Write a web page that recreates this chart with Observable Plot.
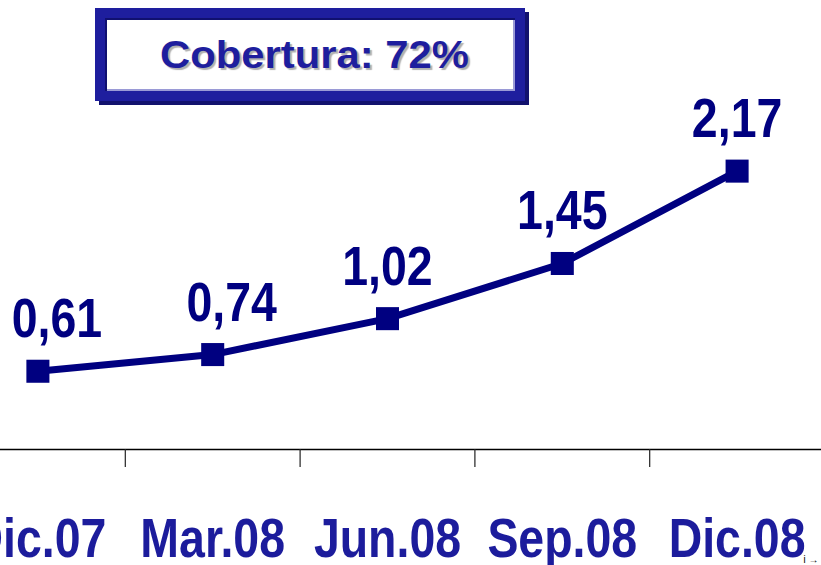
<!DOCTYPE html>
<html>
<head>
<meta charset="utf-8">
<script src="https://cdn.jsdelivr.net/npm/d3@7"></script>
<script src="https://cdn.jsdelivr.net/npm/@observablehq/plot@0.6"></script>
<style>
  html, body { margin: 0; padding: 0; background: #fff; }
  #wrap { position: relative; width: 821px; height: 565px; overflow: hidden; }
  #box {
    position: absolute; left: 95px; top: 8px; width: 410px; height: 73px;
    border: 10px solid #1e1e9e;
    box-shadow: 4px 4px 0 #12126e, inset 2px 2px 0 #101070, inset -2px -2px 0 #9a9ad6;
    background: #fff;
    display: flex; align-items: center; justify-content: center;
    z-index: 2;
  }
  #box span {
    font-family: "Liberation Sans", Arial, sans-serif; font-weight: bold;
    font-size: 38px; color: #1e1e9e; display: inline-block;
    transform: scaleX(1.1); text-shadow: 2px 2px 1px #b0b0b0;
    position: relative; left: 4px; top: 1px;
  }
  #chart { position: absolute; left: 0; top: 0; }
</style>
</head>
<body>
<div id="wrap">
  <div id="box"><span id="boxText"></span></div>
  <div id="chart"></div>
</div>
<script>
const categories = ["Dic.07", "Mar.08", "Jun.08", "Sep.08", "Dic.08"];
const values = [0.61, 0.74, 1.02, 1.45, 2.17];
const coverageLabel = "Cobertura: 72%";
const tickBoundaries = [0.5, 1.5, 2.5, 3.5];

document.getElementById("boxText").textContent = coverageLabel;

const data = categories.map((c, i) => ({i, cat: c, v: values[i], label: values[i].toFixed(2).replace(".", ",")}));
const bigFont = `"Liberation Sans", Arial, sans-serif`;

const chart = Plot.plot({
  width: 821,
  height: 565,
  marginLeft: 0,
  marginRight: 0,
  marginTop: 0,
  marginBottom: 116,
  x: {domain: [-0.5, 4.5], range: [-50, 824], axis: null},
  y: {domain: [0, 3.5], axis: null},
  style: {background: "transparent", overflow: "visible"},
  marks: [
    Plot.ruleY([0], {stroke: "#000", strokeWidth: 1.5}),
    Plot.axisX({ticks: tickBoundaries, tickSize: 18, tickFormat: () => "", stroke: "#222", strokeWidth: 1.2}),
    Plot.line(data, {x: "i", y: "v", stroke: "#000080", strokeWidth: 7}),
    Plot.dot(data, {x: "i", y: "v", symbol: "square", r: 13, fill: "#000080", stroke: "none"}),
    Plot.text(data.filter(d => d.i < 2), {x: "i", y: "v", text: "label", dy: -34, dx: 19, lineAnchor: "bottom",
      fill: "#000080", fontSize: 56, fontWeight: "bold", fontFamily: bigFont}),
    Plot.text(data.filter(d => d.i >= 2), {x: "i", y: "v", text: "label", dy: -34, dx: 0, lineAnchor: "bottom",
      fill: "#000080", fontSize: 56, fontWeight: "bold", fontFamily: bigFont}),
    Plot.text(data, {x: "i", text: "cat", frameAnchor: "bottom", dy: 107, lineAnchor: "bottom",
      fill: "#1c1c9c", fontSize: 56, fontWeight: "bold", fontFamily: bigFont})
  ]
});
// remove empty axis labels
chart.querySelectorAll("text").forEach(t => { if (!t.textContent) t.remove(); });
// condense the big bold texts horizontally (narrow face)
chart.querySelectorAll('g[aria-label="text"] text').forEach(t => {
  t.setAttribute("transform", (t.getAttribute("transform") || "") + " scale(0.83,1)");
});
document.getElementById("chart").appendChild(chart);
</script>
</body>
</html>
